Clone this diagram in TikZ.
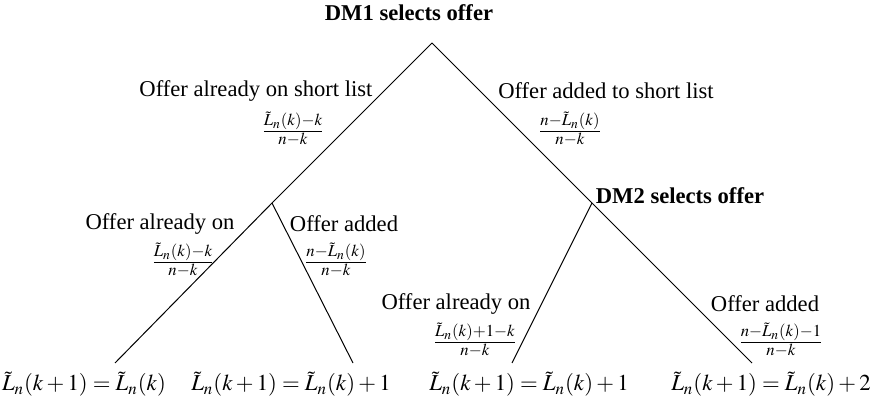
\documentclass[tikz,border=0pt]{standalone}
\usepackage{mathptmx}
\usepackage{fontspec}
\setmainfont{Liberation Serif}
\usepackage{tikz}
\usetikzlibrary{positioning}
\tikzset{branch/.style = {line width=0.5pt}}
\tikzset{lbl/.style = {inner sep=0, font=\fontsize{11.3}{13.5}\selectfont}}
\tikzset{prob/.style = {inner sep=0, font=\fontsize{11.3}{13.5}\selectfont}}
\tikzset{leaf/.style = {inner sep=0, font=\fontsize{11.4}{13.5}\selectfont}}
\tikzset{head/.style = {inner sep=0, font=\fontsize{11.3}{13.5}\selectfont\bfseries}}
\newcommand{\Lt}{\tilde{L}_n}

\begin{document}
\begin{tikzpicture}[x=0.5pt,y=-0.5pt]
        \useasboundingbox (0,0) rectangle (873,400);
        % tree vertices
        \coordinate (dm1) at (432,43);
        \coordinate (dm2) at (592,203);
        \coordinate (jn) at (272,203);
        \coordinate (e1) at (115,363);
        \coordinate (e2) at (353,363);
        \coordinate (e3) at (512,363);
        \coordinate (e4) at (752,363);
        \draw [branch] (dm1)--(jn)--(e1);
        \draw [branch] (jn)--(e2);
        \draw [branch] (dm1)--(dm2)--(e4);
        \draw [branch] (dm2)--(e3);
        \node [head] (t1) at (409,13) {DM1 selects offer};
        \node [head] (t2) at (680,196) {DM2 selects offer};
        \node [lbl] (a1) at (256,91) {Offer already on short list};
        \node [prob] (p1) at (293,129) {$\frac{\Lt(k)-k}{n-k}$};
        \node [lbl] (a2) at (606,91) {Offer added to short list};
        \node [prob] (p2) at (570,129) {$\frac{n-\Lt(k)}{n-k}$};
        \node [lbl] (a3) at (160,224) {Offer already on};
        \node [prob] (p3) at (183,260) {$\frac{\Lt(k)-k}{n-k}$};
        \node [lbl] (a4) at (344,224) {Offer added};
        \node [prob] (p4) at (336,260) {$\frac{n-\Lt(k)}{n-k}$};
        \node [lbl] (a5) at (456,304) {Offer already on};
        \node [prob] (p5) at (475,340) {$\frac{\Lt(k)+1-k}{n-k}$};
        \node [lbl] (a6) at (765,304) {Offer added};
        \node [prob] (p6) at (781,340) {$\frac{n-\Lt(k)-1}{n-k}$};
        \node [leaf] (l1) at (84,384) {$\Lt(k+1)=\Lt(k)$};
        \node [leaf] (l2) at (291,384) {$\Lt(k+1)=\Lt(k)+1$};
        \node [leaf] (l3) at (529,384) {$\Lt(k+1)=\Lt(k)+1$};
        \node [leaf] (l4) at (771,384) {$\Lt(k+1)=\Lt(k)+2$};
    \end{tikzpicture}
\end{document}
